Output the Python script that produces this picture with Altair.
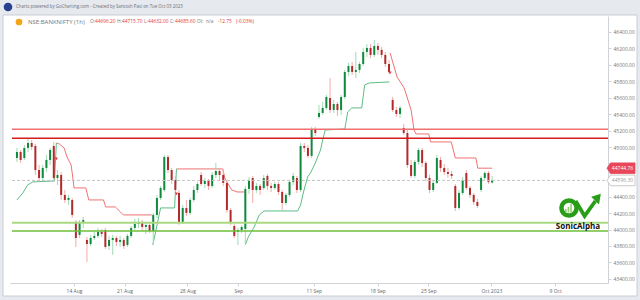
import altair as alt
import pandas as pd

# ---------------- data ----------------
OPEN = [44869,44942,44869,44991,45051,45015,44723,44626,44748,44845,
        45015,44626,44663,44420,44359,44359,44092,43934,44092,43873,
        43824,43897,43922,43970,43994,43800,43873,43897,43849,43873,
        43812,43922,44019,44067,44092,44031,44055,43982,44177,44383,
        44480,44881,44723,44602,44444,44092,44262,44201,44359,44480,
        44663,44553,44590,44529,44663,44711,44663,44566,44237,44043,
        43970,43994,44007,44493,44626,44480,44529,44505,44651,44529,
        44505,44553,44456,44322,44420,44578,44626,44480,45015,44991,
        44894,45209,45367,45416,45477,45598,45452,45525,45452,45610,
        45914,45987,45914,45939,46011,46157,46206,46121,46230,46182,
        46121,46011,45574,45452,45404,45234,45173,44784,44651,44821,
        44966,44808,44626,44480,44566,44845,44748,44699,44675,44529,
        44262,44444,44687,44505,44420,44335,44480,44626,44687,44570]
HIGH = [44991,44966,45027,45100,45088,45039,44784,44784,44906,44991,
        45064,44723,44699,44480,44420,44383,44116,44116,44152,43909,
        43934,43970,44019,44007,44019,43922,43934,43922,43922,43897,
        43946,44043,44128,44140,44116,44092,44079,44201,44420,44529,
        44906,44906,44748,44651,44480,44298,44359,44383,44529,44578,
        44699,44626,44614,44699,44808,44748,44711,44578,44262,44067,
        44019,44055,44529,44638,44651,44566,44553,44663,44675,44566,
        44578,44578,44480,44444,44602,44687,44651,45051,45051,45027,
        45246,45246,45513,45550,45635,45841,45574,45550,45635,45939,
        46024,46036,46157,46036,46206,46254,46254,46303,46267,46218,
        46157,46060,45610,45489,45501,45282,45209,44845,44845,44991,
        44991,44833,44663,44602,44906,44881,44796,44748,44711,44553,
        44480,44638,44723,44529,44444,44371,44651,44711,44711,44650]
LOW = [44821,44808,44845,44942,44966,44663,44578,44590,44699,44784,
       44578,44541,44359,44322,44298,44140,43788,43897,44019,43606,
       43800,43873,43897,43909,43764,43751,43691,43800,43788,43764,
       43788,43897,43994,44019,43994,43946,43958,43812,44140,44359,
       44456,44687,44553,44444,44055,44067,44165,44177,44335,44444,
       44529,44505,44480,44505,44626,44602,44529,44201,44055,43897,
       43812,43958,43812,44432,44322,44444,44420,44480,44480,44456,
       44480,44420,44237,44298,44395,44541,44444,44456,44942,44869,
       44869,45137,45343,45392,45452,45416,45416,45380,45392,45586,
       45866,45878,45841,45902,45987,46096,46084,46096,46121,46084,
       45975,45890,45428,45367,45355,45149,44748,44626,44626,44784,
       44760,44590,44444,44456,44553,44699,44663,44626,44614,44225,
       44237,44420,44480,44383,44298,44262,44456,44602,44553,44560]
CLOSE = [44942,44845,44991,45051,45003,44723,44626,44748,44845,44966,
         44626,44663,44420,44359,44383,44177,43897,44092,44116,43824,
         43897,43922,43970,43946,43788,43873,43897,43849,43873,43800,
         43922,44019,44067,44092,44031,44055,43982,44177,44383,44505,
         44881,44723,44602,44480,44092,44262,44201,44359,44480,44553,
         44553,44590,44529,44663,44711,44663,44566,44237,44092,43922,
         43994,44031,44493,44602,44480,44529,44480,44626,44529,44505,
         44553,44456,44322,44420,44578,44651,44480,45015,44991,44894,
         45209,45173,45416,45477,45610,45452,45525,45452,45610,45914,
         45987,45914,45939,46011,46157,46206,46121,46230,46182,46121,
         46011,45914,45452,45404,45477,45173,44784,44651,44821,44966,
         44808,44626,44480,44566,44869,44748,44699,44675,44651,44262,
         44444,44602,44505,44420,44335,44286,44626,44687,44578,44596.30]

# supertrend segments (candle index, price)
RED_ST = [
    ([10.7,11.5,12.8,13.6,14.7,15.0,15.5,18.7,19.5,23.5,24.1,26.7,28.1,28.9,36.6],
     [45051,45039,44991,44881,44784,44687,44505,44505,44359,44359,44274,44274,44213,44177,44177]),
    ([43.3,55.9,56.4,58.3,59.8,61.8],
     [44736,44736,44626,44480,44456,44456]),
    ([101.3,102.4,103.2,105.1,105.9,107.0,107.8,108.3,111.8,112.3,117.9,119.0,124.6,125.1,129.0],
     [46145,45975,45853,45720,45610,45452,45209,45161,45161,45064,45064,44869,44869,44745,44744.76]),
]
GREEN_ST = [
    ([0,1.6,2.9,4.3,10.2,10.7],
     [44359,44444,44541,44578,44590,45051]),
    ([36.9,38.2,39.0,42.8,43.3],
     [43812,44092,44262,44262,44736]),
    ([62.0,62.8,64.4,65.8,67.1,76.2,77.0,77.8,78.9,79.7,81.0,82.4,83.2,83.7,89.0,89.8,90.9,93.6,94.4,95.7,101.1],
     [43812,43909,44031,44177,44225,44225,44298,44456,44638,44687,44808,44966,45124,45209,45221,45428,45477,45477,45756,45781,45793]),
]
SIGNAL_IDX = [10.7, 43.3, 101.3]
SIGNAL_PRICE = [44857, 44432, 45902]

RED_LEVELS = [45218, 45108]
GREEN_LEVELS = [44083, 43982]
LAST_PRICE = 44596.30
ST_LAST = 44744.76

X_TICKS = [15.5, 29.2, 46.3, 60.1, 80.6, 97.9, 111.7, 128.8, 146.1]
X_LABELS = ['14 Aug', '21 Aug', '28 Aug', 'Sep', '11 Sep', '18 Sep', '25 Sep', 'Oct 2023', '9 Oct']
Y_TICKS = list(range(43400, 46401, 200))
Y_HIDDEN = [44600, 44800]   # labels covered by the price tags

HEADER = "Charts powered by GoCharting.com - Created by Santosh Pasi on Tue Oct 03 2023"
LEGEND = [("NSE:BANKNIFTY (1h)", "g"), ("O:", "g"), ("44696.20", "r"), ("H:", "g"), ("44715.70", "r"),
          ("L:", "g"), ("44632.00", "r"), ("C:", "g"), ("44685.60", "r"), ("OI:", "g"), ("n/a", "g"),
          ("-12.75", "r"), ("(-0.03%)", "r")]
LEGEND_X = [18, 80, 85, 107, 112, 134, 138, 160, 165, 187, 196, 208, 226]

# ---------------- chart ----------------
FONT = "Open Sans"
XS = alt.Scale(domain=[-0.53, 159.1], nice=False, zero=False)
YS = alt.Scale(domain=[43350, 46594], nice=False, zero=False)

label_expr = "".join(f"datum.value == {v} ? '{t}' : " for v, t in zip(X_TICKS, X_LABELS)) + "''"
ylabel_expr = " || ".join(f"datum.value == {v}" for v in Y_HIDDEN) + " ? '' : format(datum.value, '.2f')"
XAX = alt.Axis(values=X_TICKS, labelExpr=label_expr, grid=False, domainColor="#cfd3d8",
               tickColor="#cfd3d8", tickSize=3, labelFontSize=5, labelColor="#666",
               labelPadding=2, labelFont=FONT, title=None)
YAX = alt.Axis(orient="right", values=Y_TICKS, labelExpr=ylabel_expr, grid=False, domainColor="#cfd3d8",
               tickColor="#cfd3d8", tickSize=3, labelFontSize=5, labelColor="#777",
               labelPadding=2, labelFont=FONT, title=None)


def X(f):
    return alt.X(f, scale=XS, axis=XAX)


def Y(f):
    return alt.Y(f, scale=YS, axis=YAX)


candles = pd.DataFrame({"i": list(range(len(CLOSE))), "o": OPEN, "h": HIGH, "l": LOW, "c": CLOSE})
up = "datum.c >= datum.o"
one = pd.DataFrame({"k": [0]})

FRAME = "#e6e9ee"


def grey(x1, x2, y1, y2):
    return alt.Chart(one).mark_rect(fill=FRAME, strokeWidth=0).encode(
        x=alt.value(x1), x2=alt.value(x2), y=alt.value(y1), y2=alt.value(y2))


frame = [
    grey(-10, 630, -16, -1),
    grey(-10, -7, -16, 284),
    grey(627, 630, -16, 284),
    grey(-10, 630, 280, 284),
    alt.Chart(one).mark_rect(fill="white", fillOpacity=0, stroke="#c9cdd3", strokeWidth=1).encode(
        x=alt.value(-7), x2=alt.value(627), y=alt.value(-1), y2=alt.value(280)),
]

wicks = alt.Chart(candles).mark_rule(strokeWidth=1).encode(
    x=X("i:Q"), y=Y("l:Q"), y2="h:Q",
    color=alt.condition(up, alt.value("#9edcb4"), alt.value("#f4a9a9")),
)

bodies = alt.Chart(candles).mark_bar(size=2).encode(
    x=X("i:Q"), y=Y("o:Q"), y2="c:Q",
    color=alt.condition(up, alt.value("#0f8a3c"), alt.value("#b02c2c")),
)


def st_layer(segs, color):
    rows = []
    for s, (xs, ps) in enumerate(segs):
        for x, p in zip(xs, ps):
            rows.append({"i": x, "p": p, "s": s})
    return alt.Chart(pd.DataFrame(rows)).mark_line(strokeWidth=1, color=color).encode(
        x=X("i:Q"), y=Y("p:Q"), detail="s:N", order="i:Q")


red_st = st_layer(RED_ST, "#f07272")
green_st = st_layer(GREEN_ST, "#5cbd86")

signals = alt.Chart(pd.DataFrame({"i": SIGNAL_IDX, "p": SIGNAL_PRICE})).mark_point(
    shape="triangle-down", filled=True, color="#e53935", size=10, opacity=1).encode(
    x=X("i:Q"), y=Y("p:Q"))


def level(price, color, width, dash=None):
    kw = dict(color=color, strokeWidth=width)
    if dash:
        kw["strokeDash"] = dash
    return alt.Chart(pd.DataFrame({"p": [price]})).mark_rule(**kw).encode(
        y=Y("p:Q"), x=alt.value(2), x2=alt.value(598))


levels = [
    level(LAST_PRICE, "#c4c4c4", 1, [3, 2]),
    level(RED_LEVELS[0], "#f07070", 1.3),
    level(RED_LEVELS[1], "#d81b1b", 1.4),
    level(GREEN_LEVELS[0], "#a8d87f", 2),
    level(GREEN_LEVELS[1], "#6cbf3a", 1.4),
]

TAG = "M-1,0 L-0.75,-0.38 L1,-0.38 L1,0.38 L-0.75,0.38 Z"


def tag(price, fill, stroke, tcolor):
    df = pd.DataFrame({"p": [price], "t": [f"{price:.2f}"]})
    base = alt.Chart(df)
    shape = base.mark_point(shape=TAG, size=784, filled=True, fill=fill, stroke=stroke,
                            strokeWidth=0.8, opacity=1).encode(y=Y("p:Q"), x=alt.value(611))
    txt = base.mark_text(fontSize=5, color=tcolor, font=FONT, align="center", baseline="middle").encode(
        y=Y("p:Q"), x=alt.value(612.5), text="t:N")
    return [shape, txt]


tags = tag(ST_LAST, "#e8475b", "#e8475b", "white") + tag(LAST_PRICE, "white", "#bdbdbd", "#999")


def label(text, x, y, color, size, weight="normal", align="left"):
    return alt.Chart(pd.DataFrame({"t": [text]})).mark_text(
        fontSize=size, color=color, font=FONT, fontWeight=weight, align=align, baseline="middle").encode(
        x=alt.value(x), y=alt.value(y), text="t:N")


header = [
    alt.Chart(one).mark_point(shape="circle", filled=True, color="#27418f", size=75, opacity=1).encode(
        x=alt.value(-2), y=alt.value(-9)),
    label(HEADER, 6, -9, "#6b6f75", 4.4),
]

legend_layers = [alt.Chart(one).mark_point(shape="circle", filled=True, color="#f2a516", size=45, opacity=1).encode(
    x=alt.value(9), y=alt.value(6))]
for k, ((t, c), x) in enumerate(zip(LEGEND, LEGEND_X)):
    legend_layers.append(label(t, x, 6, "#777" if c == "g" else "#e53935", 6.0 if k == 0 else 4.8))

GREEN_LOGO = "#2a9d18"
TAIL = "M-0.95,-0.5 L-0.2,0.75 L0.7,-0.5"
HEAD = "M1.15,-1.1 L0.35,-0.85 L1.0,-0.2 Z"
logo = [
    alt.Chart(one).mark_point(shape="circle", filled=False, color=GREEN_LOGO, strokeWidth=4.5, size=230,
                              opacity=1).encode(x=alt.value(559), y=alt.value(192)),
    alt.Chart(one).mark_point(shape=TAIL, filled=False, color=GREEN_LOGO, strokeWidth=3.8, size=576,
                              opacity=1).encode(x=alt.value(577), y=alt.value(191)),
    alt.Chart(one).mark_point(shape=HEAD, filled=True, color=GREEN_LOGO, size=576,
                              opacity=1).encode(x=alt.value(577), y=alt.value(191)),
    alt.Chart(one).mark_rect(color="#8fd16b").encode(x=alt.value(555), x2=alt.value(556.6), y=alt.value(193), y2=alt.value(196.5)),
    alt.Chart(one).mark_rect(color="#8fd16b").encode(x=alt.value(557.6), x2=alt.value(559.2), y=alt.value(191), y2=alt.value(196.5)),
    alt.Chart(one).mark_rect(color="#8fd16b").encode(x=alt.value(560.2), x2=alt.value(561.8), y=alt.value(188), y2=alt.value(196.5)),
    label("SonicAlpha", 568, 211, "#111", 8, weight="bold", align="center"),
]

chart = alt.layer(
    *frame, red_st, green_st, wicks, bodies, *levels, signals, *tags, *header, *legend_layers, *logo
).properties(
    width=598, height=267,
    padding={"left": 10, "top": 16, "right": 32, "bottom": 17},
    autosize=alt.AutoSizeParams(type="none"),
    background="white",
).configure_view(stroke=None)

chart.save("out.html", embed_options={"renderer": "svg", "actions": False})
